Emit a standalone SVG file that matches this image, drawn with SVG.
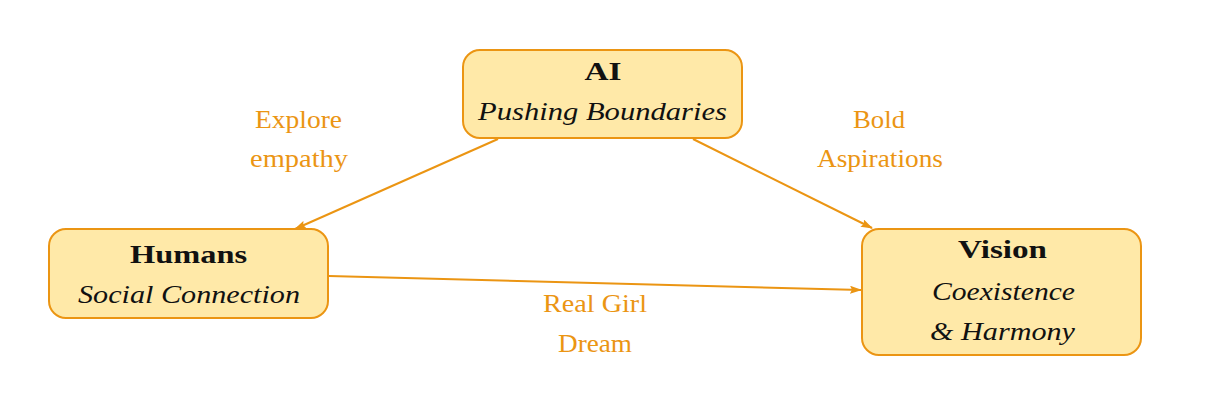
<svg xmlns="http://www.w3.org/2000/svg" width="1208" height="414" viewBox="0 0 1208 414">
<style>
.box{fill:#FFE9A8;stroke:#EB9513;stroke-width:2}
.t{font-family:"Liberation Serif","DejaVu Serif",serif;font-size:26px;fill:#111;text-anchor:middle}
.b{font-weight:bold}
.i{font-style:italic}
.lbl{font-family:"Liberation Serif","DejaVu Serif",serif;font-size:25px;fill:#EB9513;text-anchor:middle}
.edge{stroke:#EB9513;stroke-width:2;fill:none;marker-end:url(#ah)}
</style>
<defs>
<marker id="ah" viewBox="0 0 12 8" refX="11" refY="4" markerWidth="12" markerHeight="8" markerUnits="userSpaceOnUse" orient="auto">
<path d="M0,0 L12,4 L0,8 L2,4 Z" fill="#EB9513"/>
</marker>
</defs>
<rect width="1208" height="414" fill="#fff"/>
<g id="connectors">
<line class="edge" x1="498" y1="139" x2="295" y2="229"/>
<line class="edge" x1="693" y1="139" x2="872" y2="228"/>
<line class="edge" x1="329" y1="276" x2="861" y2="290"/>
<text class="lbl" x="298.5" y="128" textLength="87" lengthAdjust="spacingAndGlyphs">Explore</text>
<text class="lbl" x="299" y="167" textLength="98" lengthAdjust="spacingAndGlyphs">empathy</text>
<text class="lbl" x="879" y="128" textLength="52" lengthAdjust="spacingAndGlyphs">Bold</text>
<text class="lbl" x="880" y="167" textLength="126" lengthAdjust="spacingAndGlyphs">Aspirations</text>
<text class="lbl" x="595" y="312" textLength="104" lengthAdjust="spacingAndGlyphs">Real Girl</text>
<text class="lbl" x="595" y="352" textLength="74" lengthAdjust="spacingAndGlyphs">Dream</text>
</g>
<g id="ai">
<rect class="box" x="463" y="50" width="279" height="88" rx="17"/>
<text class="t b" x="603" y="80" textLength="37" lengthAdjust="spacingAndGlyphs">AI</text>
<text class="t i" x="602.5" y="120" textLength="249" lengthAdjust="spacingAndGlyphs">Pushing Boundaries</text>
</g>
<g id="humans">
<rect class="box" x="49" y="229" width="279" height="89" rx="17"/>
<text class="t b" x="188.5" y="263" textLength="117" lengthAdjust="spacingAndGlyphs">Humans</text>
<text class="t i" x="189" y="303" textLength="222" lengthAdjust="spacingAndGlyphs">Social Connection</text>
</g>
<g id="vision">
<rect class="box" x="862" y="229" width="279" height="126" rx="17"/>
<text class="t b" x="1002.5" y="258" textLength="89" lengthAdjust="spacingAndGlyphs">Vision</text>
<text class="t i" x="1003.5" y="300" textLength="143" lengthAdjust="spacingAndGlyphs">Coexistence</text>
<text class="t i" x="1002.5" y="340" textLength="145" lengthAdjust="spacingAndGlyphs">&amp; Harmony</text>
</g>
</svg>
